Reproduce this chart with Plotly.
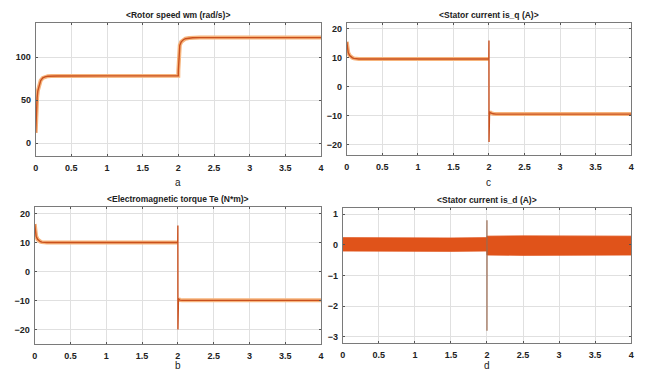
import plotly.graph_objects as go

# ---------------- data ----------------
x_ticks = [0, 0.5, 1, 1.5, 2, 2.5, 3, 3.5, 4]
x_tick_labels = ["0", "0.5", "1", "1.5", "2", "2.5", "3", "3.5", "4"]

# (a) rotor speed wm (rad/s)
t_speed = [0, 0.005, 0.01, 0.02, 0.03, 0.05, 0.07, 0.1, 0.13, 0.17, 0.22, 0.3, 1.0, 1.999,
           2.0, 2.005, 2.01, 2.02, 2.04, 2.07, 2.1, 2.15, 2.2, 2.3, 3.0, 4.0]
speed = [12, 28, 40, 53, 61, 69, 73, 76, 77.3, 78, 78.3, 78.3, 78.4, 78.4,
         85, 100, 108, 114, 118, 120.5, 121.7, 122.5, 122.8, 123, 123, 123]

# (b) electromagnetic torque Te (N*m)
t_te = [0, 0.01, 0.02, 0.04, 0.06, 0.08, 0.1, 0.13, 0.17, 0.25, 1.0, 1.998,
        2.0, 2.001, 2.002, 2.004, 2.008, 2.015, 2.03, 2.06, 2.1, 3.0, 4.0]
te = [16.5, 13.5, 12.3, 11.2, 10.7, 10.4, 10.25, 10.15, 10.1, 10.1, 10.1, 10.1,
      16, -20, -4, -8, -9.3, -9.6, -9.8, -9.9, -9.9, -9.9, -9.9]

# (c) stator current is_q (A)
t_isq = [0, 0.01, 0.02, 0.04, 0.06, 0.08, 0.1, 0.13, 0.17, 0.25, 1.0, 1.998,
         2.0, 2.001, 2.002, 2.004, 2.008, 2.015, 2.03, 2.06, 2.1, 3.0, 4.0]
isq = [15.5, 13, 11.8, 10.8, 10.3, 10, 9.8, 9.65, 9.6, 9.6, 9.6, 9.6,
       16, -19, -4, -7.5, -8.6, -8.9, -9.1, -9.3, -9.4, -9.4, -9.4]

# (d) stator current is_d (A): envelope of the fast ripple + transient spike
t_isd = [0, 0.5, 1.0, 1.5, 1.999, 2.001, 2.5, 3.0, 3.5, 4.0]
isd_upper = [0.23, 0.22, 0.23, 0.22, 0.23, 0.28, 0.29, 0.28, 0.29, 0.28]
isd_lower = [-0.2, -0.21, -0.2, -0.21, -0.2, -0.33, -0.34, -0.33, -0.34, -0.33]
t_spike = [1.999, 2.0, 2.0, 2.001]
isd_spike = [0.0, 0.8, -2.8, -0.1]

titles = ["<Rotor speed wm (rad/s)>", "<Stator current is_q (A)>",
          "<Electromagnetic torque Te (N*m)>", "<Stator current is_d (A)>"]
letters = ["a", "c", "b", "d"]

# ---------------- style ----------------
W, H = 649, 371
HALO = "#F6B47C"
CORE = "#C9501E"
BAND = "#E0531A"
FONT = "Liberation Sans, Arial, sans-serif"

fig = go.Figure()


def line(ax, x, y, jump_lo=None, jump_hi=None):
    xa, ya = ("x" if ax == 1 else f"x{ax}"), ("y" if ax == 1 else f"y{ax}")
    hx, hy = [], []
    for xi, yi in zip(x, y):
        if jump_lo is not None and jump_lo < xi < jump_hi:
            if hx and hx[-1] is not None:
                hx.append(None)
                hy.append(None)
            continue
        hx.append(xi)
        hy.append(yi)
    fig.add_trace(go.Scatter(x=hx, y=hy, mode="lines", xaxis=xa, yaxis=ya,
                             connectgaps=False,
                             line=dict(color=HALO, width=4), showlegend=False))
    fig.add_trace(go.Scatter(x=x, y=y, mode="lines", xaxis=xa, yaxis=ya,
                             line=dict(color=CORE, width=1.4), showlegend=False))


line(1, t_speed, speed)
line(2, t_isq, isq, 1.999, 2.005)
line(3, t_te, te, 1.999, 2.005)

fig.add_trace(go.Scatter(x=t_isd, y=isd_lower, mode="lines", xaxis="x4", yaxis="y4",
                         line=dict(color=BAND, width=1), showlegend=False))
fig.add_trace(go.Scatter(x=t_isd, y=isd_upper, mode="lines", xaxis="x4", yaxis="y4",
                         fill="tonexty", fillcolor=BAND,
                         line=dict(color=BAND, width=1), showlegend=False))
fig.add_trace(go.Scatter(x=t_spike, y=isd_spike, mode="lines", xaxis="x4", yaxis="y4",
                         line=dict(color="#9A6A50", width=1.2), showlegend=False))

# panel boxes in pixels: (left, right, top, bottom)
boxes = [(33, 321, 23, 156), (347, 634, 23, 155), (32, 321, 207, 344), (343, 634, 208, 343)]
letter_y = [182, 182, 365, 365]
yranges = [[-15, 140], [-23.5, 22], [-25, 22.4], [-3.2, 1.2]]
yticks = [[0, 50, 100], [-20, -10, 0, 10, 20], [-20, -10, 0, 10, 20], [-3, -2, -1, 0, 1]]

axis_common = dict(showgrid=True, gridcolor="#E0E0E0", gridwidth=1,
                   showline=True, linecolor="#7A7A7A", linewidth=1, mirror="allticks",
                   ticks="inside", ticklen=2, tickcolor="#555555", zeroline=False,
                   tickfont=dict(family=FONT, size=9, color="#222222", weight="bold"))

layout = dict(width=W, height=H, margin=dict(l=0, r=0, t=0, b=0),
              paper_bgcolor="white", plot_bgcolor="white", showlegend=False)
annotations = []
for i, (l, r, t, b) in enumerate(boxes):
    n = i + 1
    xk = "xaxis" if n == 1 else f"xaxis{n}"
    yk = "yaxis" if n == 1 else f"yaxis{n}"
    xa = "x" if n == 1 else f"x{n}"
    ya = "y" if n == 1 else f"y{n}"
    layout[xk] = dict(domain=[l / W, r / W], range=[0, 4], anchor=ya,
                      tickvals=x_ticks, ticktext=x_tick_labels,
                      ticklabelstandoff=3, **axis_common)
    layout[yk] = dict(domain=[1 - b / H, 1 - t / H], range=yranges[i], anchor=xa,
                      tickvals=yticks[i], ticklabelstandoff=2, **axis_common)
    cx = (l + r) / 2 / W
    annotations.append(dict(text=f"<b>{titles[i]}</b>", x=cx, y=1 - (t - 8) / H,
                            xref="paper", yref="paper", showarrow=False,
                            xanchor="center", yanchor="middle",
                            font=dict(family=FONT, size=8.5, color="#222222")))
    annotations.append(dict(text=letters[i], x=cx, y=1 - letter_y[i] / H,
                            xref="paper", yref="paper", showarrow=False,
                            xanchor="center", yanchor="middle",
                            font=dict(family=FONT, size=10, color="#222222")))
layout["annotations"] = annotations
fig.update_layout(**layout)

fig.write_html("out.html", config={"displayModeBar": False},
               post_script="document.body.style.margin='0';document.body.style.padding='0';")
